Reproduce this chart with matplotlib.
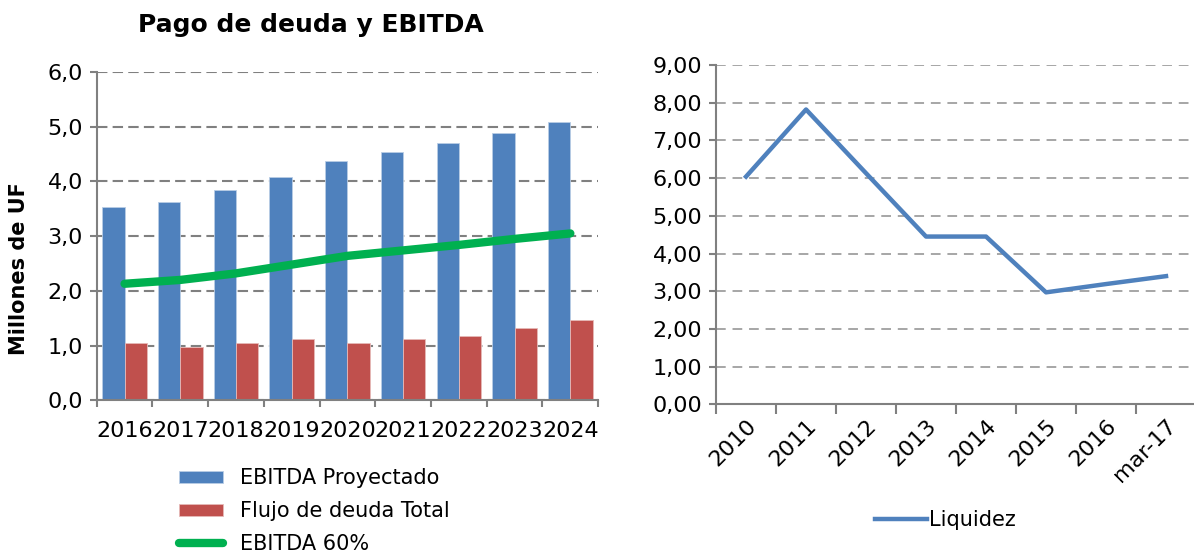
import numpy as np
import matplotlib
matplotlib.use("Agg")
import matplotlib.pyplot as plt
from matplotlib.ticker import FuncFormatter, FixedLocator

# data
years = ["2016", "2017", "2018", "2019", "2020", "2021", "2022", "2023", "2024"]
ebitda_proy = [3.53, 3.63, 3.84, 4.09, 4.38, 4.54, 4.70, 4.89, 5.08]
flujo_deuda = [1.05, 0.98, 1.05, 1.12, 1.05, 1.12, 1.17, 1.32, 1.47]
ebitda_60 = [2.13, 2.20, 2.32, 2.48, 2.64, 2.74, 2.84, 2.95, 3.05]

liq_labels = ["2010", "2011", "2012", "2013", "2014", "2015", "2016", "mar-17"]
liquidez = [6.04, 7.82, 6.13, 4.45, 4.45, 2.97, 3.19, 3.40]

BLUE = "#4F81BD"
RED = "#C0504D"
GREEN = "#00B050"
AXCOL = "#808080"
FS = 15
TFS = 16

plt.rcParams["font.family"] = ["DejaVu Sans"]

fig = plt.figure(figsize=(11.94, 5.59), dpi=100)

# ---- left chart: Pago de deuda y EBITDA ----
ax1 = fig.add_axes([0.081, 0.284, 0.42, 0.587])
x = np.arange(len(years))
w = 0.4
b1 = ax1.bar(x - w / 2, ebitda_proy, w, color=BLUE, edgecolor="#B9CDE5",
             linewidth=0.6, label="EBITDA Proyectado", zorder=2)
b2 = ax1.bar(x + w / 2, flujo_deuda, w, color=RED, edgecolor="#E6B9B8",
             linewidth=0.6, label="Flujo de deuda Total", zorder=2)
l1, = ax1.plot(x, ebitda_60, color=GREEN, lw=6, solid_capstyle="round",
               label="EBITDA 60%", zorder=3)

ax1.set_xlim(-0.5, len(years) - 0.5)
ax1.set_ylim(0, 6)
ax1.set_yticks(np.arange(0, 6.1, 1))
ax1.yaxis.set_major_formatter(FuncFormatter(lambda v, p: f"{v:.1f}".replace(".", ",")))
ax1.set_xticks(x)
ax1.set_xticklabels(years)
ax1.xaxis.set_minor_locator(FixedLocator(np.arange(-0.5, len(years), 1)))
ax1.tick_params(axis="x", which="major", length=0, pad=15, labelsize=TFS)
ax1.tick_params(axis="x", which="minor", length=5, width=1.5, color=AXCOL)
ax1.tick_params(axis="y", length=5, width=1.5, color=AXCOL, labelsize=TFS, pad=5)
ax1.grid(axis="y", color=AXCOL, lw=1.5, linestyle=(0, (5, 2.5)), zorder=0)
ax1.set_axisbelow(True)
for s in ["top", "right"]:
    ax1.spines[s].set_visible(False)
for s in ["left", "bottom"]:
    ax1.spines[s].set_color(AXCOL)
    ax1.spines[s].set_linewidth(1.5)

fig.text(0.26, 0.955, "Pago de deuda y EBITDA", ha="center", va="center",
         fontsize=18, fontweight="bold")
fig.text(0.016, 0.52, "Millones de UF", rotation=90, ha="center", va="center",
         fontsize=15, fontweight="bold")

fig.legend(handles=[b1, b2, l1], loc="upper left", bbox_to_anchor=(0.15, 0.162),
           frameon=False, fontsize=FS, handlelength=2.1, handleheight=0.55,
           labelspacing=0.62, handletextpad=0.8, borderpad=0, borderaxespad=0)

# ---- right chart: Liquidez ----
ax2 = fig.add_axes([0.5997, 0.2767, 0.402, 0.607])
x2 = np.arange(len(liq_labels))
l2, = ax2.plot(x2, liquidez, color=BLUE, lw=3.2, label="Liquidez", zorder=3)
ax2.set_xlim(-0.5, len(liq_labels) - 0.5)
ax2.set_ylim(0, 9)
ax2.set_yticks(np.arange(0, 9.1, 1))
ax2.yaxis.set_major_formatter(FuncFormatter(lambda v, p: f"{v:.2f}".replace(".", ",")))
ax2.set_xticks(x2)
ax2.set_xticklabels(liq_labels, rotation=45, ha="right", va="top",
                    rotation_mode="anchor")
ax2.xaxis.set_minor_locator(FixedLocator(np.arange(-0.5, len(liq_labels), 1)))
ax2.tick_params(axis="x", which="major", length=0, pad=8, labelsize=TFS)
ax2.tick_params(axis="x", which="minor", length=7, width=1.5, color=AXCOL)
ax2.tick_params(axis="y", length=5, width=1.5, color=AXCOL, labelsize=TFS, pad=5)
ax2.grid(axis="y", color="#A6A6A6", lw=1.4, linestyle=(0, (5, 3.5)), zorder=0)
ax2.set_axisbelow(True)
for s in ["top", "right"]:
    ax2.spines[s].set_visible(False)
for s in ["left", "bottom"]:
    ax2.spines[s].set_color(AXCOL)
    ax2.spines[s].set_linewidth(1.5)

fig.legend(handles=[l2], loc="center left", bbox_to_anchor=(0.733, 0.07),
           frameon=False, fontsize=FS, handlelength=2.5, handletextpad=0.1,
           borderpad=0, borderaxespad=0)

fig.savefig("out.png", dpi=100)
